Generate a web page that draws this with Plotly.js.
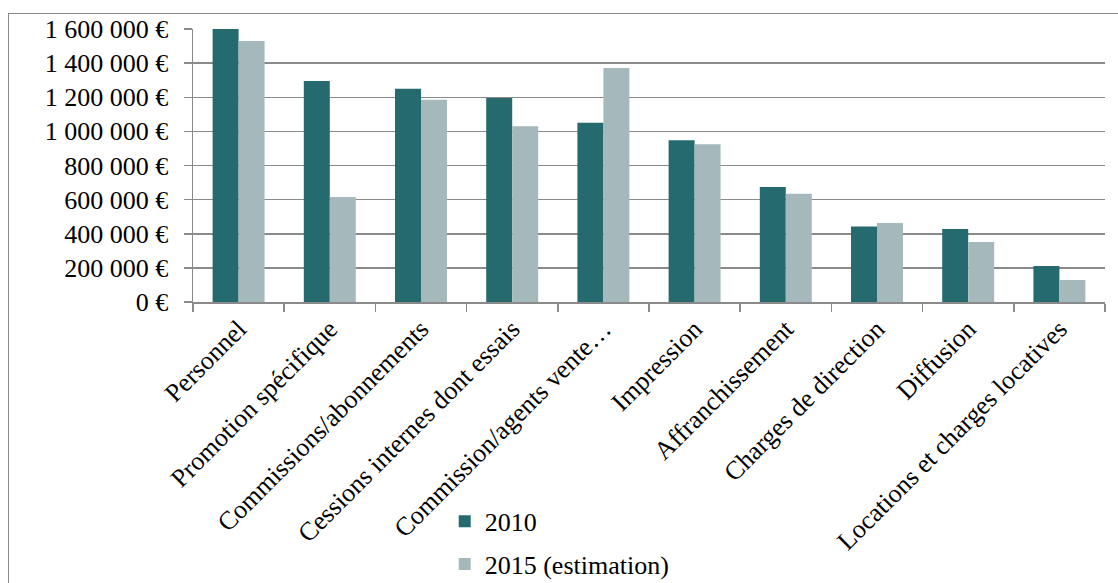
<!DOCTYPE html>
<html>
<head>
<meta charset="utf-8">
<script src="https://cdn.plot.ly/plotly-3.0.1.min.js"></script>
<style>
  html, body { margin: 0; padding: 0; background: #fff; }
  #frame { position: absolute; left: 8px; top: 13px; width: 1200px; height: 700px;
           border-left: 1.5px solid #8a8a8a; border-top: 1.5px solid #8a8a8a; }
  #chart { position: absolute; left: 0; top: 0; width: 1118px; height: 583px; }
</style>
</head>
<body>
<div id="frame"></div>
<div id="chart"></div>
<script>
const categories = [
  "Personnel",
  "Promotion spécifique",
  "Commissions/abonnements",
  "Cessions internes dont essais",
  "Commission/agents vente…",
  "Impression",
  "Affranchissement",
  "Charges de direction",
  "Diffusion",
  "Locations et charges locatives"
];
const values2010 = [1600000, 1295000, 1250000, 1195000, 1050000, 948000, 674000, 442000, 428000, 211000];
const values2015 = [1530000, 616000, 1185000, 1030000, 1372000, 925000, 635000, 463000, 352000, 129000];
const seriesNames = ["2010", "2015 (estimation)"];

const FAMILY = "Liberation Serif";
function mkFont(size) { return { family: FAMILY, size: size, color: "#000" }; }

const traces = [
  { type: "bar", name: seriesNames[0], x: categories, y: values2010,
    marker: { color: "#246A6E" }, legendgroup: "a" },
  { type: "bar", name: seriesNames[1], x: categories, y: values2015,
    marker: { color: "#A5B9BC" }, legendgroup: "b" }
];

const layout = {
  width: 1118, height: 583,
  margin: { l: 193, r: 13, t: 29, b: 281, pad: 0, autoexpand: false },
  paper_bgcolor: "rgba(0,0,0,0)",
  plot_bgcolor: "rgba(0,0,0,0)",
  font: mkFont(26),
  separators: ", ",
  barmode: "group",
  bargap: 0.43,
  bargroupgap: 0,
  showlegend: true,
  legend: {
    x: 0.276, y: 0.146, xref: "paper", yref: "container", xanchor: "left", yanchor: "top",
    font: mkFont(26), tracegroupgap: 6, traceorder: "grouped",
    bgcolor: "rgba(0,0,0,0)"
  },
  xaxis: {
    type: "category",
    tickangle: -45,
    showline: true, linecolor: "#8a8a8a", linewidth: 1.5,
    ticks: "outside", tickson: "boundaries", ticklen: 8, tickcolor: "#8a8a8a", tickwidth: 1.5,
    showgrid: false,
    tickfont: mkFont(26),
    automargin: false
  },
  yaxis: {
    range: [0, 1600000],
    dtick: 200000,
    tickformat: ",d",
    ticksuffix: " €",
    showline: true, linecolor: "#8a8a8a", linewidth: 1.5,
    ticks: "outside", ticklen: 8, tickcolor: "#8a8a8a", tickwidth: 1.5,
    ticklabelstandoff: 10,
    showgrid: true, gridcolor: "#8a8a8a", gridwidth: 1.5,
    zeroline: false,
    tickfont: mkFont(26),
    automargin: false
  }
};

Plotly.newPlot("chart", traces, layout, { displayModeBar: false, staticPlot: true });
</script>
</body>
</html>
